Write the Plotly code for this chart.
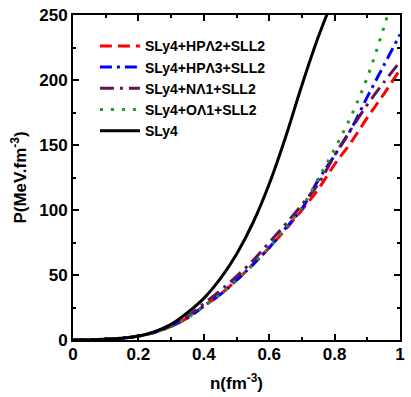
import plotly.graph_objects as go

# Data
n_sly4 = [0, 0.05, 0.1, 0.15, 0.2, 0.25, 0.3, 0.35, 0.4, 0.45, 0.5, 0.55, 0.6, 0.65, 0.7, 0.75, 0.8]
p_sly4 = [0, 0.2, 0.6, 1.4, 3.0, 6.5, 12, 21, 32, 47, 66, 90, 120, 156, 196, 233, 265]

n_hyp = [0, 0.05, 0.1, 0.15, 0.2, 0.25, 0.3, 0.35, 0.4, 0.45, 0.5, 0.55, 0.6, 0.65, 0.7, 0.75, 0.8, 0.85, 0.9, 0.95, 1.0]
p_hp2 = [0, 0.2, 0.6, 1.4, 3.0, 6.0, 10.5, 17, 26, 35, 46, 58, 71, 85, 100, 116, 135, 152, 171, 189, 208]
p_hp3 = [0, 0.2, 0.6, 1.4, 3.0, 6.0, 10.5, 17, 26, 35, 46, 58, 71, 86, 101, 123, 142, 162, 187, 211, 235]
p_nl1 = [0, 0.2, 0.6, 1.4, 3.0, 6.0, 11, 18, 28, 38, 49, 61, 75, 89, 104, 120, 142, 162, 181, 198, 214]
p_ol1 = [0, 0.2, 0.6, 1.4, 3.0, 6.0, 10.5, 17, 26, 35, 46, 58, 71, 86, 102, 124, 147, 172, 202, 240, 282]

names = ["SLy4+HPΛ2+SLL2", "SLy4+HPΛ3+SLL2", "SLy4+NΛ1+SLL2", "SLy4+OΛ1+SLL2", "SLy4"]

FONT = "Liberation Sans"

fig = go.Figure()
fig.add_trace(go.Scatter(x=n_hyp, y=p_hp2, mode="lines", name=names[0],
                         line=dict(color="#ff0000", width=3, dash="12px,6px", shape="spline")))
fig.add_trace(go.Scatter(x=n_hyp, y=p_hp3, mode="lines", name=names[1],
                         line=dict(color="#0000ff", width=3, dash="12px,5px,3px,5px", shape="spline")))
fig.add_trace(go.Scatter(x=n_hyp, y=p_nl1, mode="lines", name=names[2],
                         line=dict(color="#661155", width=3, dash="14px,6px,3px,6px", shape="spline")))
fig.add_trace(go.Scatter(x=n_hyp, y=p_ol1, mode="lines", name=names[3],
                         line=dict(color="#229922", width=3, dash="3px,8px", shape="spline")))
fig.add_trace(go.Scatter(x=n_sly4, y=p_sly4, mode="lines", name=names[4],
                         line=dict(color="#000000", width=3, shape="spline")))

axis_common = dict(
    showline=True, linecolor="black", linewidth=2, mirror="allticks",
    ticks="inside", ticklen=6, tickwidth=1.5, tickcolor="black",
    showgrid=False, zeroline=False, ticklabeloverflow="allow",
    tickfont=dict(family=FONT, size=17, color="black", weight="bold"),
)

fig.update_xaxes(range=[0, 1], dtick=0.2, ticklabelstandoff=-2,
                 minor=dict(ticks="inside", ticklen=3, dtick=0.1, tickcolor="black", tickwidth=1.5),
                 title=dict(text="n(fm<sup>-3</sup>)", font=dict(family=FONT, size=17, color="black", weight="bold"), standoff=14),
                 **axis_common)
fig.update_yaxes(range=[0, 250], dtick=50,
                 minor=dict(ticks="inside", ticklen=3, dtick=25, tickcolor="black", tickwidth=1.5),
                 title=dict(text="P(MeV.fm<sup>-3</sup>)", font=dict(family=FONT, size=17, color="black", weight="bold"), standoff=8),
                 **axis_common)

fig.update_layout(
    width=411, height=397,
    margin=dict(l=73, r=6, t=10, b=57),
    plot_bgcolor="white", paper_bgcolor="white",
    legend=dict(x=0.067, y=0.953, xanchor="left", yanchor="top",
                bgcolor="rgba(0,0,0,0)", borderwidth=0,
                font=dict(family=FONT, size=14, color="black", weight="bold"),
                tracegroupgap=0, itemwidth=40),
    showlegend=True,
)

fig.write_html("out.html", config={"displayModeBar": False},
               post_script="document.body.style.margin='0';document.body.style.overflow='hidden';")
